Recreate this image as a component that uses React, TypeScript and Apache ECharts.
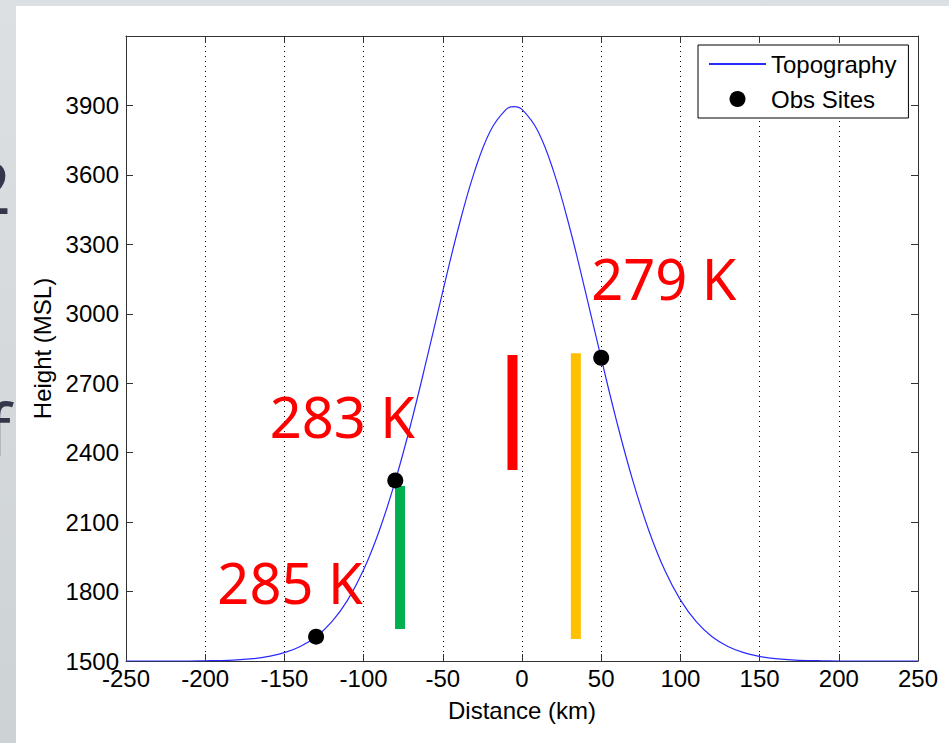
import React, { useEffect, useRef } from "react";
import * as echarts from "echarts";

// Topography profile (km, m MSL)
const topoX = [-250, -240, -230, -220, -210, -200, -190, -180, -170, -160, -150, -140, -130, -120, -110, -100, -90, -80, -70, -60, -50, -40, -30, -20, -10, -5, 0, 10, 20, 30, 40, 50, 60, 70, 80, 90, 100, 110, 120, 130, 140, 150, 160, 170, 180, 190, 200, 210, 220, 230, 240, 250];
const topoY = [1500, 1500, 1500, 1500, 1500, 1501, 1502, 1505, 1510, 1520, 1536, 1563, 1605, 1670, 1764, 1894, 2065, 2278, 2529, 2808, 3097, 3375, 3614, 3790, 3883, 3895, 3883, 3790, 3614, 3375, 3097, 2808, 2529, 2278, 2065, 1894, 1764, 1670, 1605, 1563, 1536, 1520, 1510, 1505, 1502, 1501, 1500, 1500, 1500, 1500, 1500, 1500];

// Observation sites
const obsX = [-130, -80, 50];
const obsY = [1605, 2280, 2810];

// Vertical bars
const barNames = ["bar1", "bar2", "bar3"];
const barX = [-77, -6, 34];
const barBottom = [1638, 2325, 1595];
const barTop = [2256, 2822, 2830];
const barColors = ["#00B050", "#FF0000", "#FFC000"];

// Temperature annotations
const labelTexts = ["285 K", "283 K", "279 K"];
const labelX = [-192, -159, 44];
const labelY = [1839, 2556, 3152];

// Axis settings
const xMin = -250;
const xMax = 250;
const xStep = 50;
const yMin = 1500;
const yMax = 4200;
const yStep = 300;

const FONT = "Liberation Sans, Arial, sans-serif";

export default function App() {
  const ref = useRef<HTMLDivElement>(null);

  useEffect(() => {
    if (!ref.current) return;
    const chart = echarts.init(ref.current, undefined, { renderer: "svg" });

    const axisLine = { show: true, onZero: false, lineStyle: { color: "#333", width: 1 } };
    const axisTick = { show: true, inside: true, length: 7, lineStyle: { color: "#333", width: 1 } };

    const barSeries = barNames.map((n, i) => ({
      name: n,
      type: "line",
      data: [
        [barX[i], barBottom[i]],
        [barX[i], barTop[i]],
      ],
      symbol: "none",
      lineStyle: { color: barColors[i], width: 10, cap: "butt" },
      z: 4,
      silent: true,
    }));

    chart.setOption({
      animation: false,
      backgroundColor: "transparent",
      grid: { left: 126, top: 36, right: 31, bottom: 82, containLabel: false },
      legend: {
        data: [
          { name: "Topography", itemStyle: { opacity: 0 } },
          { name: "Obs Sites" },
        ],
        orient: "vertical",
        left: 698,
        top: 45,
        padding: [7, 12, 7, 10],
        itemWidth: 57,
        itemHeight: 16,
        itemGap: 11,
        borderColor: "#000",
        borderWidth: 1,
        borderRadius: 0,
        backgroundColor: "#fff",
        textStyle: { fontSize: 24, color: "#000", fontFamily: FONT },
      },
      xAxis: [
        {
          type: "value",
          position: "bottom",
          min: xMin,
          max: xMax,
          interval: xStep,
          axisLine,
          axisTick,
          axisLabel: { fontSize: 24, color: "#000", fontFamily: FONT, margin: 5, formatter: (v: number) => String(v) },
          splitLine: { show: true, lineStyle: { type: [1, 4], color: "#000", width: 1 } },
          name: "Distance (km)",
          nameLocation: "middle",
          nameGap: 37,
          nameTextStyle: { fontSize: 24, color: "#000", fontFamily: FONT },
        },
        {
          type: "value",
          position: "top",
          min: xMin,
          max: xMax,
          interval: xStep,
          axisLine,
          axisTick,
          axisLabel: { show: false },
          splitLine: { show: false },
        },
      ],
      yAxis: [
        {
          type: "value",
          position: "left",
          min: yMin,
          max: yMax,
          interval: yStep,
          axisLine,
          axisTick,
          axisLabel: {
            fontSize: 24,
            color: "#000",
            fontFamily: FONT,
            margin: 7,
            showMaxLabel: false,
            formatter: (v: number) => String(v),
          },
          splitLine: { show: false },
          name: "Height (MSL)",
          nameLocation: "middle",
          nameGap: 66,
          nameTextStyle: { fontSize: 24, color: "#000", fontFamily: FONT },
        },
        {
          type: "value",
          position: "right",
          min: yMin,
          max: yMax,
          interval: yStep,
          axisLine,
          axisTick,
          axisLabel: { show: false },
          splitLine: { show: false },
        },
      ],
      series: [
        {
          name: "Topography",
          type: "line",
          data: topoX.map((x, i) => [x, topoY[i]]),
          symbol: "none",
          showSymbol: false,
          smooth: 0.4,
          lineStyle: { color: "#2a2aff", width: 1.2 },
          itemStyle: { color: "#2a2aff" },
          z: 3,
        },
        ...barSeries,
        {
          name: "Obs Sites",
          type: "scatter",
          data: obsX.map((x, i) => [x, obsY[i]]),
          symbol: "circle",
          symbolSize: 16,
          itemStyle: { color: "#000", opacity: 1 },
          z: 6,
        },
        {
          name: "labels",
          type: "scatter",
          data: labelX.map((x, i) => [x, labelY[i], labelTexts[i]]),
          symbolSize: 1,
          itemStyle: { color: "rgba(0,0,0,0)", opacity: 1 },
          silent: true,
          z: 7,
          label: {
            show: true,
            position: [0, 0],
            align: "left",
            verticalAlign: "middle",
            formatter: (p: any) => p.data[2],
            fontSize: 56,
            color: "#FF0000",
            opacity: 1,
            fontFamily: "Noto Sans, Open Sans, sans-serif",
          },
        },
      ],
      graphic: [
        {
          type: "text",
          left: -30,
          top: 150,
          style: { text: "2", font: "72px Noto Sans", fill: "#34364a", textAlign: "left" },
          z: 1,
        },
        {
          type: "text",
          left: -14,
          top: 392,
          style: { text: "f", font: "72px Noto Sans", fill: "#34364a", textAlign: "left" },
          z: 1,
        },
      ],
    });

    return () => chart.dispose();
  }, []);

  return (
    <div
      style={{
        position: "fixed",
        left: 0,
        top: 0,
        width: 949,
        height: 743,
        background: "linear-gradient(180deg, #dde0e2 0%, #cdd2d5 100%)",
        overflow: "hidden",
      }}
    >
      <div style={{ position: "absolute", left: 16, top: 6, right: 0, bottom: 0, background: "#fff" }} />
      <div ref={ref} style={{ position: "absolute", left: 0, top: 0, width: 949, height: 743 }} />
    </div>
  );
}
